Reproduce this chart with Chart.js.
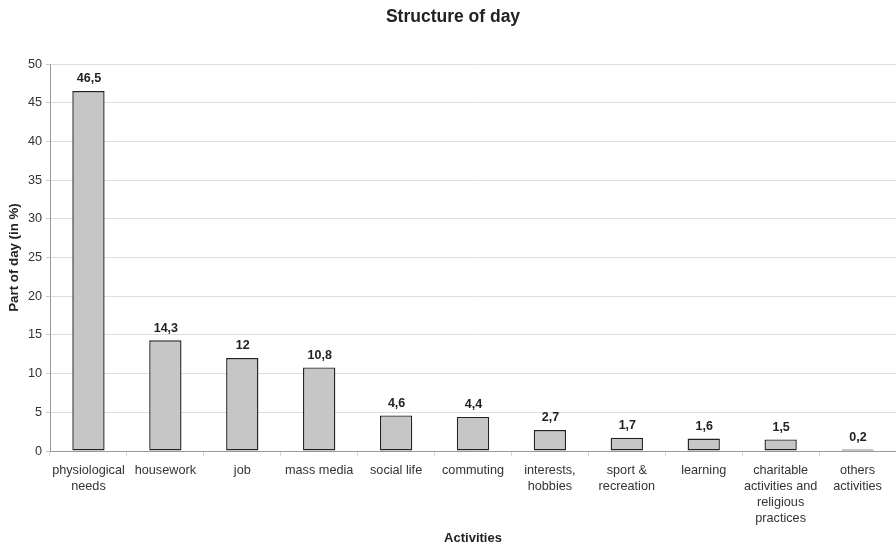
<!DOCTYPE html>
<html>
<head>
<meta charset="utf-8">
<script src="https://cdn.jsdelivr.net/npm/chart.js@4/dist/chart.umd.min.js"></script>
<style>
  html, body { margin: 0; padding: 0; background: #fff; }
  #wrap { width: 896px; height: 546px; }
</style>
</head>
<body>
<div id="wrap"><canvas id="c" width="896" height="546"></canvas></div>
<script>
// Activities and their share of the day (percent)
const categories = [
  ['physiological', 'needs'],
  'housework',
  'job',
  'mass media',
  'social life',
  'commuting',
  ['interests,', 'hobbies'],
  ['sport &', 'recreation'],
  'learning',
  ['charitable', 'activities and', 'religious', 'practices'],
  ['others', 'activities']
];
const shareOfDay = [46.5, 14.3, 12, 10.8, 4.6, 4.4, 2.7, 1.7, 1.6, 1.5, 0.2];
const yTicks = [0, 5, 10, 15, 20, 25, 30, 35, 40, 45, 50];
const chartTitle = 'Structure of day';

const FONT = '"Liberation Sans", Arial, sans-serif';

// Writes each bar's value above it, with a decimal comma
const valueLabels = {
  id: 'valueLabels',
  afterDatasetsDraw(chart) {
    const ctx = chart.ctx;
    const meta = chart.getDatasetMeta(0);
    ctx.save();
    ctx.font = 'bold 12.5px ' + FONT;
    ctx.fillStyle = '#222';
    ctx.textAlign = 'center';
    ctx.textBaseline = 'bottom';
    meta.data.forEach((bar, i) => {
      const txt = String(shareOfDay[i]).replace('.', ',');
      ctx.fillText(txt, bar.x + 0.5, bar.y - 6);
    });
    ctx.restore();
  }
};

// Heading drawn slightly right of the canvas centre, over the plot
const heading = {
  id: 'heading',
  afterDraw(chart) {
    const ctx = chart.ctx;
    ctx.save();
    ctx.font = 'bold 17.5px ' + FONT;
    ctx.fillStyle = '#222';
    ctx.textAlign = 'center';
    ctx.textBaseline = 'middle';
    ctx.fillText(chartTitle, 453, 17);
    ctx.restore();
  }
};

new Chart(document.getElementById('c'), {
  type: 'bar',
  data: {
    labels: categories,
    datasets: [{
      data: shareOfDay,
      backgroundColor: '#c6c6c6',
      borderColor: '#222',
      borderWidth: 1.4,
      borderSkipped: false,
      categoryPercentage: 1,
      barPercentage: 0.42
    }]
  },
  options: {
    responsive: false,
    animation: false,
    layout: { padding: { left: 0, right: 0, top: 64, bottom: 0 } },
    plugins: {
      legend: { display: false },
      tooltip: { enabled: false },
      title: { display: false }
    },
    scales: {
      x: {
        grid: {
          offset: true,
          drawOnChartArea: false,
          drawTicks: true,
          tickLength: 5,
          tickColor: '#d8d8d8'
        },
        border: { color: '#999', width: 1 },
        ticks: {
          color: '#333',
          maxRotation: 0,
          autoSkip: false,
          padding: 6,
          font: { family: FONT, size: 12.7, lineHeight: 1.27 }
        },
        title: {
          display: true,
          text: 'Activities',
          color: '#222',
          font: { family: FONT, size: 13, weight: 'bold', lineHeight: 1.2 },
          padding: { top: 4, bottom: 0 }
        },
        afterFit(scale) { scale.height = 95; }
      },
      y: {
        min: 0,
        max: 50,
        afterBuildTicks(scale) { scale.ticks = yTicks.map(v => ({ value: v })); },
        grid: {
          color: '#dedede',
          tickColor: '#c8c8c8',
          tickLength: 4,
          lineWidth: 1
        },
        border: { color: '#999', width: 1 },
        ticks: {
          color: '#333',
          padding: 4,
          font: { family: FONT, size: 12.7 }
        },
        title: {
          display: true,
          text: 'Part of day (in %)',
          color: '#222',
          font: { family: FONT, size: 13.3, weight: 'bold', lineHeight: 1.2 },
          padding: { top: 6, bottom: 0 }
        },
        afterFit(scale) { scale.width = 50; }
      }
    }
  },
  plugins: [valueLabels, heading]
});
</script>
</body>
</html>
